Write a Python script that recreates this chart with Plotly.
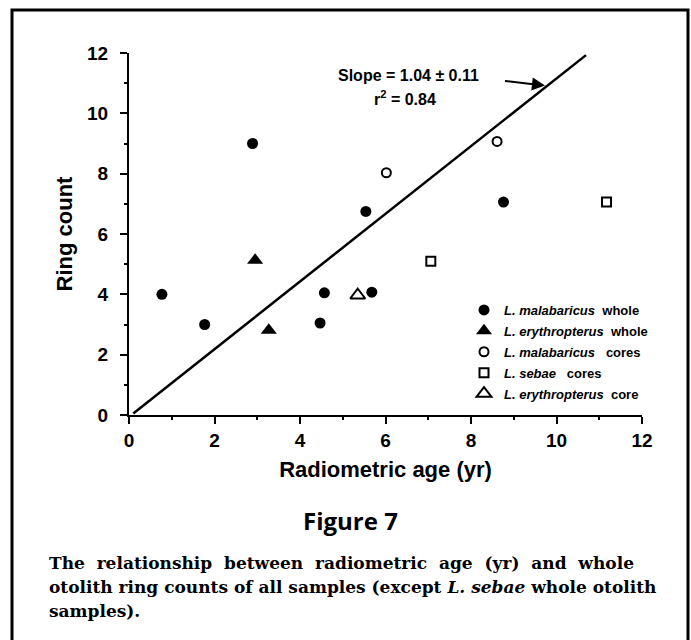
import plotly.graph_objects as go

# ---- data ----
mal_whole_x = [0.77, 1.77, 2.89, 4.47, 4.57, 5.54, 5.68, 8.76]
mal_whole_y = [4.0, 3.0, 9.0, 3.05, 4.05, 6.75, 4.07, 7.06]
ery_whole_x = [2.95, 3.27]
ery_whole_y = [5.13, 2.81]
mal_core_x = [6.02, 8.61]
mal_core_y = [8.03, 9.07]
seb_core_x = [7.06, 11.17]
seb_core_y = [5.10, 7.06]
ery_core_x = [5.35]
ery_core_y = [3.97]
fit_x = [0.1, 10.69]
fit_y = [0.05, 11.93]

x_ticks = [0, 2, 4, 6, 8, 10, 12]
y_ticks = [0, 2, 4, 6, 8, 10, 12]

slope_text = "Slope = 1.04 \u00b1 0.11"
r2_text = "r<sup>2</sup> = 0.84"
fig_title = "Figure 7"
caption_lines = [
    "The relationship between radiometric age (yr) and whole",
    "otolith ring counts of all samples (except <i>L. sebae</i> whole otolith",
    "samples).",
]

# ---- figure ----
W, H = 691, 640
L, R, T, B = 129, 49, 53, 225
pw = W - L - R
ph = H - T - B


def px2paper_x(px):
    return (px - L) / pw


def px2paper_y(py):
    return (H - B - py) / ph


fig = go.Figure()
fig.add_trace(go.Scatter(x=fit_x, y=fit_y, mode="lines",
                         line=dict(color="black", width=2.5), showlegend=False))

common = dict(mode="markers")
fig.add_trace(go.Scatter(x=mal_whole_x, y=mal_whole_y, name="<i>L. malabaricus</i>  whole",
                         marker=dict(symbol="circle", size=11, color="black"),
                         legendgroup="a", **common))
fig.add_trace(go.Scatter(x=ery_whole_x, y=ery_whole_y, name="<i>L. erythropterus</i>  whole",
                         marker=dict(symbol="triangle-up", size=14, color="black"),
                         legendgroup="b", **common))
fig.add_trace(go.Scatter(x=mal_core_x, y=mal_core_y, name="<i>L. malabaricus</i>   cores",
                         marker=dict(symbol="circle-open", size=9, color="black",
                                     line=dict(width=2, color="black")),
                         legendgroup="c", **common))
fig.add_trace(go.Scatter(x=seb_core_x, y=seb_core_y, name="<i>L. sebae</i>   cores",
                         marker=dict(symbol="square-open", size=9, color="black",
                                     line=dict(width=2, color="black")),
                         legendgroup="d", **common))
fig.add_trace(go.Scatter(x=ery_core_x, y=ery_core_y, name="<i>L. erythropterus</i>  core",
                         marker=dict(symbol="triangle-up-open", size=13, color="black",
                                     line=dict(width=2, color="black")),
                         legendgroup="e", **common))

sans = "Liberation Sans, Arial, sans-serif"
axis_common = dict(
    showline=True, linecolor="black", linewidth=2,
    ticks="outside", ticklen=7, tickwidth=2, tickcolor="black",
    showgrid=False, zeroline=False, dtick=2,
    tickfont=dict(family=sans, size=19, color="black", weight="bold"),
    minor=dict(ticks="outside", ticklen=3, tickwidth=1.5, tickcolor="black", dtick=1, showgrid=False),
)
fig.update_xaxes(range=[0, 12], tickvals=x_ticks,
                 title=dict(text="Radiometric age (yr)", font=dict(family=sans, size=22, color="black", weight="bold"),
                            standoff=12),
                 ticklabelstandoff=0, **axis_common)
fig.update_yaxes(range=[0, 12], tickvals=y_ticks,
                 title=dict(text="Ring count", font=dict(family=sans, size=22, color="black", weight="bold"),
                            standoff=8),
                 ticklabelstandoff=8, **axis_common)

annotations = [
    dict(x=6.53, y=11.27, xref="x", yref="y", text=slope_text, showarrow=False,
         font=dict(family=sans, size=16, color="black", weight="bold")),
    dict(x=6.45, y=10.5, xref="x", yref="y", text=r2_text, showarrow=False,
         font=dict(family=sans, size=16, color="black", weight="bold")),
    dict(x=9.73, y=10.92, xref="x", yref="y", ax=8.76, ay=11.08, axref="x", ayref="y",
         text="", showarrow=True, arrowhead=2, arrowsize=1.3, arrowwidth=2, arrowcolor="black"),
    dict(x=px2paper_x(350), y=px2paper_y(520), xref="paper", yref="paper", text=fig_title,
         showarrow=False, xanchor="center", yanchor="middle",
         font=dict(family="Open Sans, sans-serif", size=24, color="black", weight="bold")),
]
cap_y = [563, 587, 611]
for i, (txt, yy) in enumerate(zip(caption_lines, cap_y)):
    if i == 0:
        txt = txt.replace(" ", " &nbsp;")
    annotations.append(dict(x=px2paper_x(47), y=px2paper_y(yy), xref="paper", yref="paper",
                            text=txt, showarrow=False, xanchor="left", yanchor="middle",
                            font=dict(family="DejaVu Serif, serif", size=17, color="black", weight="bold")))

fig.update_layout(
    width=W, height=H,
    margin=dict(l=L, r=R, t=T, b=B, autoexpand=False),
    paper_bgcolor="white", plot_bgcolor="white",
    annotations=annotations,
    legend=dict(x=px2paper_x(464), y=px2paper_y(295), xanchor="left", yanchor="top",
                font=dict(family=sans, size=13, color="black", weight="bold"),
                tracegroupgap=1, bgcolor="rgba(0,0,0,0)", borderwidth=0),
    shapes=[dict(type="rect", xref="paper", yref="paper",
                 x0=px2paper_x(12), x1=px2paper_x(688), y0=px2paper_y(660), y1=px2paper_y(10),
                 line=dict(color="black", width=3), fillcolor="rgba(0,0,0,0)", layer="below")],
)

fig.write_html("out.html")
